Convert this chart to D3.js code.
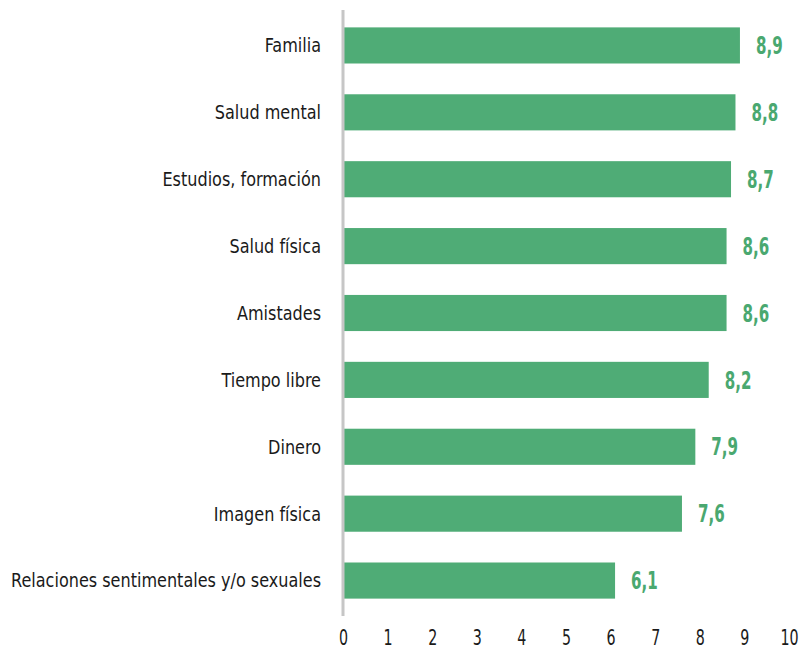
<!DOCTYPE html>
<html>
<head>
<meta charset="utf-8">
<script src="https://cdn.jsdelivr.net/npm/d3@7"></script>
<style>
  body { margin: 0; background: #fff; }
  text { font-family: "DejaVu Sans Condensed", "DejaVu Sans", sans-serif; }
</style>
</head>
<body>
<svg id="viz"></svg>
<script>
const categories = [
  'Familia', 'Salud mental', 'Estudios, formación', 'Salud física', 'Amistades',
  'Tiempo libre', 'Dinero', 'Imagen física', 'Relaciones sentimentales y/o sexuales'
];
const values = [8.9, 8.8, 8.7, 8.6, 8.6, 8.2, 7.9, 7.6, 6.1];
const valueLabels = ['8,9', '8,8', '8,7', '8,6', '8,6', '8,2', '7,9', '7,6', '6,1'];
const xTicks = [0, 1, 2, 3, 4, 5, 6, 7, 8, 9, 10];

const width = 801, height = 651;

const svg = d3.select('#viz').attr('width', width).attr('height', height);

// SCALES
const x = d3.scaleLinear().domain([0, 10]).range([343, 789]);
const y = d3.scaleBand().domain(categories).range([12, 614]).paddingInner(0.46).paddingOuter(0.23);

// BARS
svg.append('g')
  .selectAll('rect')
  .data(values)
  .enter()
  .append('rect')
  .attr('x', x(0))
  .attr('y', (d, i) => y(categories[i]))
  .attr('width', (d) => x(d) - x(0))
  .attr('height', y.bandwidth())
  .style('fill', '#4fac76');

// VALUE LABELS
svg.append('g')
  .selectAll('text')
  .data(values)
  .enter()
  .append('text')
  .attr('transform', (d, i) => 'translate(' + (x(d) + 16) + ',' + (y(categories[i]) + y.bandwidth() / 2) + ') scale(0.7,1)')
  .attr('dy', '0.36em')
  .style('font-size', '24px')
  .style('font-weight', 'bold')
  .style('fill', '#4aa870')
  .text((d, i) => valueLabels[i]);

// CATEGORY LABELS
svg.append('g')
  .selectAll('text')
  .data(categories)
  .enter()
  .append('text')
  .attr('transform', (d) => 'translate(321,' + (y(d) + y.bandwidth() / 2) + ') scale(0.94,1)')
  .attr('dy', '0.36em')
  .attr('text-anchor', 'end')
  .style('font-size', '19px')
  .style('fill', '#1a1a1a')
  .text((d) => d);

// AXIS LINE
svg.append('line')
  .attr('x1', x(0)).attr('x2', x(0))
  .attr('y1', 10).attr('y2', 616)
  .style('stroke', '#c6c6c6')
  .style('stroke-width', 3);

// X TICKS
const xAxis = svg.append('g')
  .attr('transform', 'translate(0,645)')
  .call(d3.axisBottom(x).tickValues(xTicks).tickSize(0).tickFormat(d3.format('d')));
xAxis.select('.domain').remove();
xAxis.selectAll('text')
  .attr('y', 0)
  .attr('dy', 0)
  .attr('transform', 'scale(0.72,1)')
  .style('font-family', '"DejaVu Sans Condensed", "DejaVu Sans", sans-serif')
  .style('font-size', '22px')
  .style('fill', '#1a1a1a');
</script>
</body>
</html>
